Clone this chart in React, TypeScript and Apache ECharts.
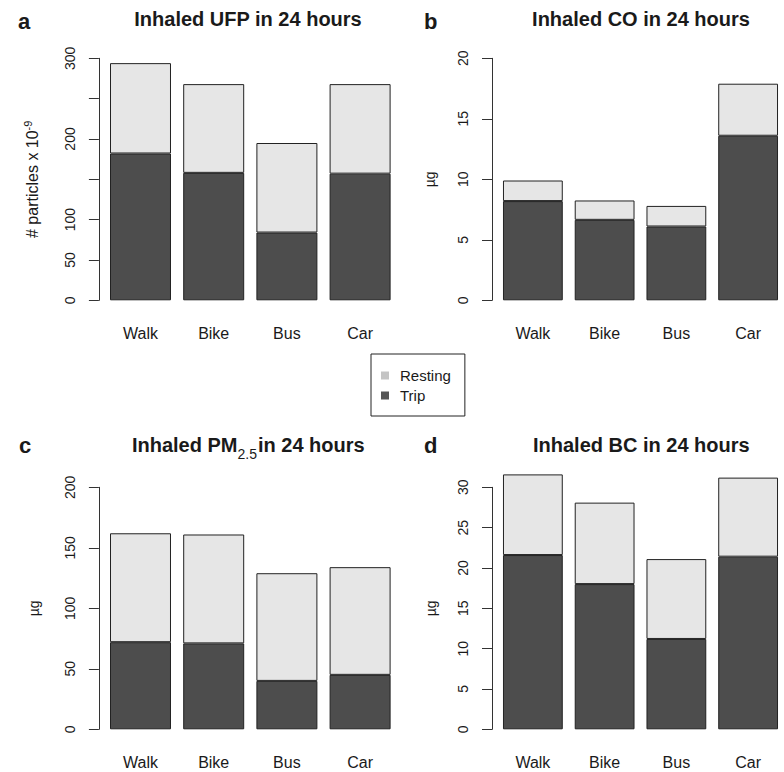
import React, { useEffect, useRef } from 'react';
import * as echarts from 'echarts';

// Travel modes on every panel's category axis
const modes = ['Walk', 'Bike', 'Bus', 'Car'];

// a: inhaled ultrafine particles (# particles x 10^-9)
const ufpTrip = [182, 158, 84, 157];
const ufpResting = [112, 110, 111, 111];
const ufpTickLabels = [0, 50, 100, 200, 300];

// b: inhaled CO (µg)
const coTrip = [8.2, 6.65, 6.1, 13.6];
const coResting = [1.7, 1.6, 1.7, 4.3];
const coTickLabels = [0, 5, 10, 15, 20];

// c: inhaled PM2.5 (µg)
const pmTrip = [72, 71, 40, 45];
const pmResting = [90, 90, 89, 89];
const pmTickLabels = [0, 50, 100, 150, 200];

// d: inhaled black carbon (µg)
const bcTrip = [21.6, 18, 11.2, 21.4];
const bcResting = [10, 10.1, 9.9, 9.8];
const bcTickLabels = [0, 5, 10, 15, 20, 25, 30];

const FONT = '"Liberation Sans", Arial, Helvetica, sans-serif';
const INK = '#1a1a1a';
const TRIP_COLOR = '#4d4d4d';
const REST_COLOR = '#e6e6e6';

const panels = [
  {
    letter: 'a', title: 'Inhaled UFP in 24 hours', yName: '# particles x 10{sup|-9}', yNameSize: 16,
    nameGap: 57, max: 300, interval: 50, ticks: ufpTickLabels, trip: ufpTrip, resting: ufpResting,
    left: 103.9, top: 58.3, titleX: 248, titleY: 19.1, letterX: 18, letterY: 21.7,
  },
  {
    letter: 'b', title: 'Inhaled CO in 24 hours', yName: 'µg', yNameSize: 14,
    nameGap: 55, max: 20, interval: 5, ticks: coTickLabels, trip: coTrip, resting: coResting,
    left: 497, top: 58.3, titleX: 641, titleY: 19.1, letterX: 424, letterY: 21.7,
  },
  {
    letter: 'c', title: 'Inhaled PM{sub|2.5}in 24 hours', yName: 'µg', yNameSize: 14,
    nameGap: 58, max: 200, interval: 50, ticks: pmTickLabels, trip: pmTrip, resting: pmResting,
    left: 103.9, top: 487.3, titleX: 248.3, titleY: 444.8, letterX: 19, letterY: 445.7,
  },
  {
    letter: 'd', title: 'Inhaled BC in 24 hours', yName: 'µg', yNameSize: 14,
    nameGap: 54, max: 30, interval: 5, ticks: bcTickLabels, trip: bcTrip, resting: bcResting,
    left: 497, top: 487.3, titleX: 641.3, titleY: 445.4, letterX: 424, letterY: 445.7,
  },
];

const PLOT_W = 292.8;
const PLOT_H = 242;
const AXIS_OFFSET = 5;

function buildOption() {
  const grid = panels.map((p) => ({ left: p.left, top: p.top, width: PLOT_W, height: PLOT_H, containLabel: false }));

  const xAxis = panels.map((_, i) => ({
    type: 'category',
    gridIndex: i,
    data: modes,
    axisLine: { show: false },
    axisTick: { show: false },
    axisLabel: { fontSize: 16, color: INK, fontFamily: FONT, margin: 25 },
  }));

  const yAxis = panels.map((p, i) => ({
    type: 'value',
    gridIndex: i,
    min: 0,
    max: p.max,
    interval: p.interval,
    offset: AXIS_OFFSET,
    splitLine: { show: false },
    axisLine: { show: true, lineStyle: { color: '#333', width: 1 } },
    axisTick: { show: true, length: 10, lineStyle: { color: '#333', width: 1 } },
    axisLabel: {
      rotate: 90,
      margin: 22,
      fontSize: 14,
      color: INK,
      fontFamily: FONT,
      formatter: (v: number) => (p.ticks.includes(v) ? String(v) : ''),
    },
    name: p.yName,
    nameLocation: 'middle',
    nameRotate: 90,
    nameGap: p.nameGap,
    nameTextStyle: {
      fontSize: p.yNameSize,
      color: INK,
      fontFamily: FONT,
      rich: {
        sup: { fontSize: 11, color: INK, fontFamily: FONT, padding: [0, 0, 8, 0] },
      },
    },
  }));

  const barStyle = (color: string) => ({ color, borderColor: '#222', borderWidth: 1 });

  const series: any[] = [];
  panels.forEach((p, i) => {
    series.push({
      name: 'Trip',
      type: 'bar',
      stack: 'p' + i,
      xAxisIndex: i,
      yAxisIndex: i,
      data: p.trip,
      barCategoryGap: '16.67%',
      itemStyle: barStyle(TRIP_COLOR),
      clip: false,
      emphasis: { disabled: true },
    });
    series.push({
      name: 'Resting',
      type: 'bar',
      stack: 'p' + i,
      xAxisIndex: i,
      yAxisIndex: i,
      data: p.resting,
      barCategoryGap: '16.67%',
      itemStyle: barStyle(REST_COLOR),
      clip: false,
      emphasis: { disabled: true },
    });
  });

  const graphic: any[] = [];
  panels.forEach((p) => {
    graphic.push({
      type: 'text',
      x: p.titleX,
      y: p.titleY,
      style: {
        text: p.title,
        font: `bold 20px ${FONT}`,
        fill: INK,
        align: 'center',
        verticalAlign: 'middle',
        rich: {
          sub: { fontSize: 14, fontWeight: 'normal', fontFamily: FONT, fill: INK, padding: [18, 1, 0, 0] },
        },
      },
    });
    graphic.push({
      type: 'text',
      x: p.letterX,
      y: p.letterY,
      style: {
        text: p.letter,
        font: `bold 22px ${FONT}`,
        fill: INK,
        align: 'left',
        verticalAlign: 'middle',
      },
    });
  });

  return {
    backgroundColor: '#ffffff',
    animation: false,
    grid,
    xAxis,
    yAxis,
    series,
    graphic,
    legend: {
      orient: 'vertical',
      left: 371,
      top: 354,
      padding: [14, 14, 13, 10],
      itemWidth: 8,
      itemHeight: 8,
      itemGap: 5,
      icon: 'rect',
      selectedMode: false,
      borderColor: '#222',
      borderWidth: 1,
      textStyle: { fontSize: 15, color: INK, fontFamily: FONT, padding: [0, 0, 0, 6] },
      data: [
        { name: 'Resting', itemStyle: { color: '#c4c4c4', borderWidth: 0 } },
        { name: 'Trip', itemStyle: { color: '#555555', borderWidth: 0 } },
      ],
    },
  };
}

export default function App() {
  const ref = useRef<HTMLDivElement>(null);
  useEffect(() => {
    if (!ref.current) return;
    const chart = echarts.init(ref.current, null, { renderer: 'svg' });
    chart.setOption(buildOption() as any);
    return () => chart.dispose();
  }, []);
  return (
    <div
      ref={ref}
      style={{ position: 'fixed', left: 0, top: 0, width: 784, height: 772, background: '#fff' }}
    />
  );
}
